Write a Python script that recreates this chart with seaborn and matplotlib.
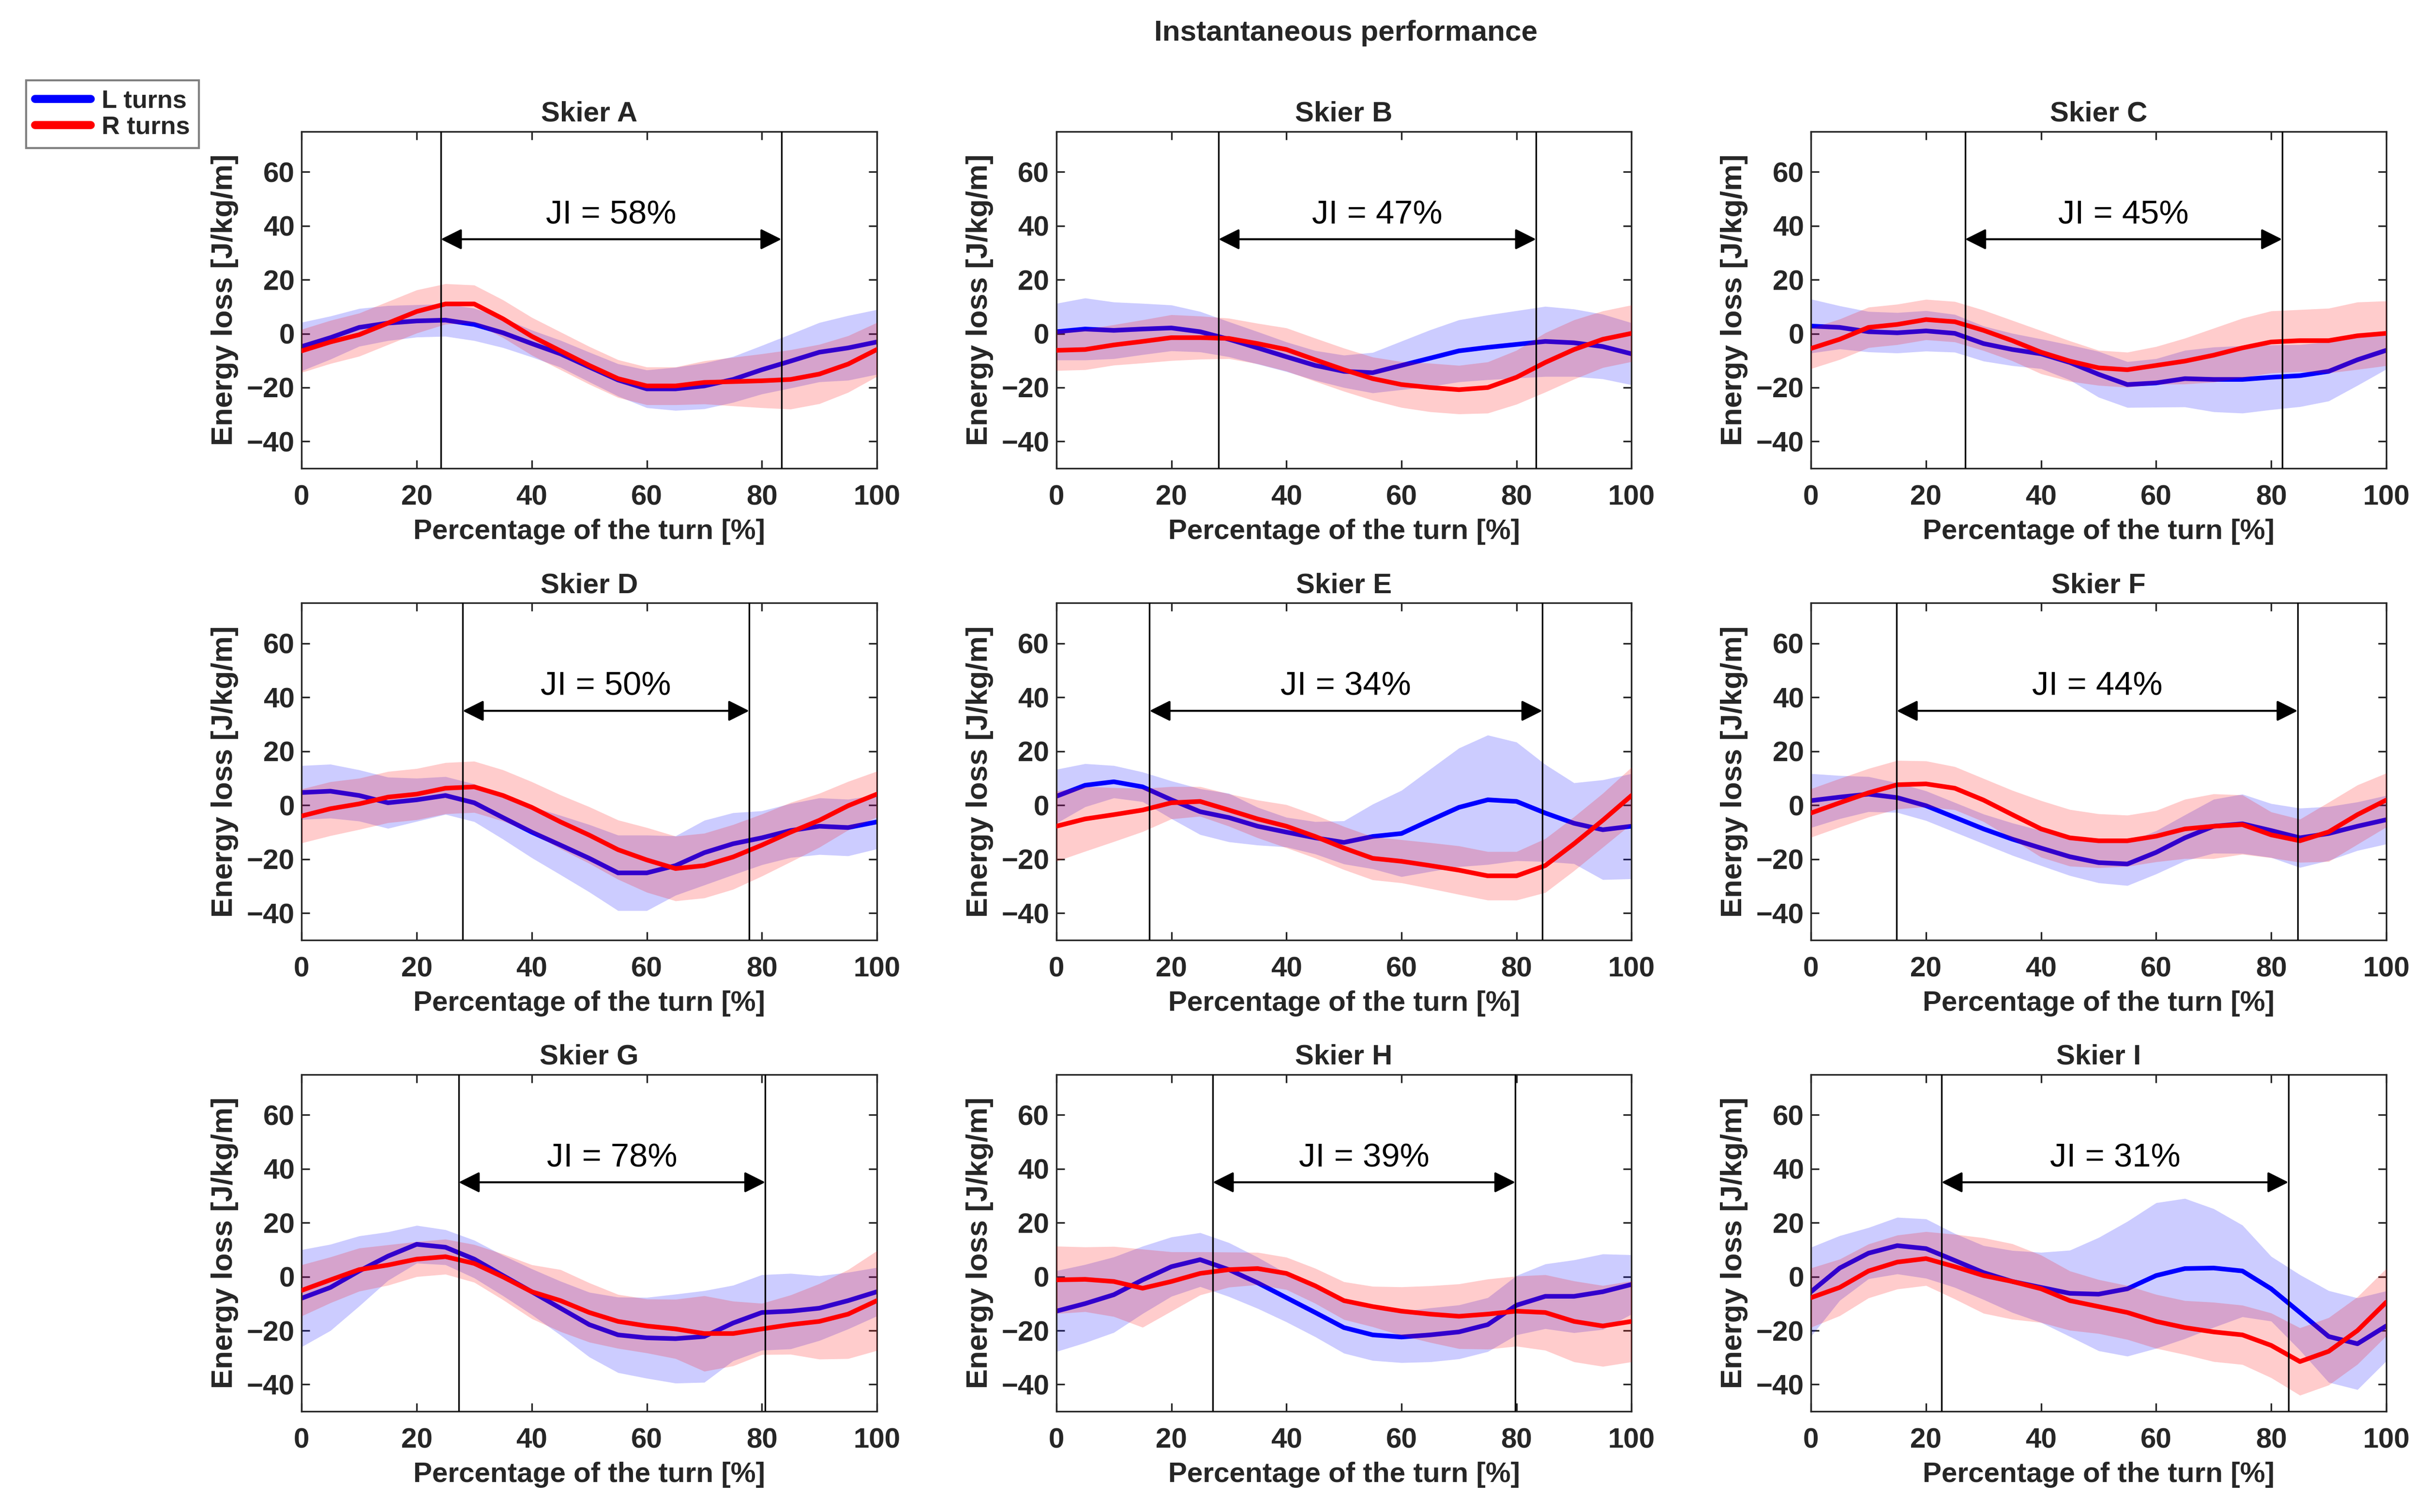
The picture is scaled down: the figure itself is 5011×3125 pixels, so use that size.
import numpy as np
import pandas as pd
import matplotlib
matplotlib.use("Agg")
import matplotlib.pyplot as plt
import seaborn as sns
from matplotlib.lines import Line2D

# percentage of the turn (sampling grid)
PCT = [0, 5, 10, 15, 20, 25, 30, 35, 40, 45, 50, 55, 60, 65, 70, 75, 80, 85, 90, 95, 100]

skiers = ["A", "B", "C", "D", "E", "F", "G", "H", "I"]
ji_values = [58, 47, 45, 50, 34, 44, 78, 39, 31]
ji_start = [24.2, 28.2, 26.8, 28.0, 16.2, 14.9, 27.3, 27.2, 22.7]
ji_end = [83.4, 83.4, 81.9, 77.8, 84.5, 84.6, 80.6, 79.8, 83.0]

# mean energy loss and SD, left turns
L_mean = {
    "A": [-4.8, -1.5, 2.3, 3.9, 4.7, 5.0, 3.4, 0.3, -3.7, -7.5, -12.4, -17.2, -20.5, -20.5, -19.4, -17.0, -13.4, -10.2, -6.9, -5.3, -3.1],
    "B": [0.7, 1.7, 1.2, 1.7, 2.1, 0.7, -2.1, -5.3, -8.6, -11.8, -14.0, -14.5, -11.8, -9.1, -6.4, -5.1, -4.0, -2.9, -3.4, -4.8, -7.5],
    "C": [2.8, 2.3, 0.7, 0.3, 1.0, 0.1, -3.7, -5.9, -7.5, -10.7, -15.1, -18.9, -18.3, -16.7, -17.0, -17.0, -16.2, -15.6, -14.0, -9.7, -6.2],
    "D": [4.7, 5.2, 3.6, 0.9, 2.0, 3.6, 0.9, -4.6, -10.0, -14.8, -19.7, -25.1, -25.1, -22.4, -17.6, -14.3, -12.1, -9.4, -7.8, -8.3, -6.2],
    "E": [3.3, 7.4, 8.7, 6.8, 2.0, -2.4, -4.6, -7.8, -10.0, -12.1, -13.8, -11.6, -10.5, -5.6, -0.8, 2.0, 1.4, -2.9, -6.7, -9.1, -7.8],
    "F": [1.7, 3.0, 4.1, 2.8, -0.2, -4.5, -8.8, -12.6, -15.9, -19.1, -21.3, -21.8, -17.5, -12.1, -7.8, -6.9, -9.4, -12.1, -10.5, -7.8, -5.4],
    "G": [-8.0, -4.0, 2.1, 7.6, 12.0, 10.9, 6.5, 0.4, -5.6, -11.7, -17.8, -21.6, -22.7, -23.0, -22.2, -17.2, -13.3, -12.8, -11.7, -8.9, -5.6],
    "H": [-12.8, -10.0, -6.7, -1.2, 3.7, 6.3, 2.6, -2.3, -7.8, -13.3, -18.9, -21.6, -22.4, -21.6, -20.5, -17.8, -10.6, -7.3, -7.3, -5.6, -2.9],
    "I": [-5.6, 3.2, 8.7, 11.5, 10.4, 6.0, 1.5, -1.8, -4.0, -6.2, -6.5, -4.5, 0.4, 3.0, 3.2, 2.1, -4.5, -13.3, -22.2, -24.9, -18.3],
}
L_sd = {
    "A": [9, 8, 7, 6.5, 6, 6, 6, 5.5, 5, 5, 5.5, 6, 7, 8, 8.5, 8.5, 9, 10, 11, 12, 12],
    "B": [10.5, 11.5, 10.5, 9.5, 8.5, 7.5, 6.5, 6, 5.5, 5.5, 6, 7.5, 9, 10.5, 11.5, 12, 12.5, 13, 12.5, 12, 11.5],
    "C": [10, 8, 7.5, 7.5, 7.5, 7, 6.5, 6, 5.5, 6.5, 8.5, 8.5, 9, 10.5, 12, 12.5, 12, 11.5, 11, 9.5, 7],
    "D": [10, 10, 9.5, 9.5, 8, 7, 7, 8, 9.5, 11, 12.5, 14, 14, 11, 12, 11.5, 10, 10, 10.5, 10.5, 10],
    "E": [10, 8, 6, 5.5, 7, 8.5, 9, 7, 5.5, 6, 8, 12, 16, 19, 22, 24, 22, 18, 15, 18.5, 19.5],
    "F": [10, 8, 6.5, 5.5, 5.5, 5.5, 5.5, 6, 6.5, 7, 7.5, 8, 8, 8.5, 10, 11, 10, 11, 10, 9, 9],
    "G": [18, 16, 13, 9, 7, 6.5, 7, 7.5, 8.5, 10, 12, 14, 15, 16.5, 17, 14, 14, 14, 12, 10.5, 9],
    "H": [15, 14.5, 14, 12.5, 11, 10, 10, 9.5, 9, 9, 9.5, 9.5, 9.5, 10, 10, 10, 11, 12, 13.5, 14, 11],
    "I": [16.5, 12, 9.5, 10.5, 11, 10, 10, 11.5, 13, 16, 21, 25, 27, 26, 22, 17, 12, 14, 17, 17, 13],
}

# mean energy loss and SD, right turns
R_mean = {
    "A": [-6.4, -3.1, -0.4, 3.9, 8.2, 11.0, 11.0, 5.5, -1.0, -6.4, -11.8, -16.7, -19.4, -19.4, -18.1, -17.8, -17.5, -17.0, -15.0, -11.3, -5.9],
    "B": [-6.2, -5.9, -4.2, -2.9, -1.5, -1.5, -1.8, -3.7, -5.9, -9.7, -13.4, -16.7, -18.9, -20.0, -20.8, -20.0, -16.2, -10.7, -5.9, -2.1, 0.1],
    "C": [-5.5, -2.1, 2.3, 3.4, 5.2, 4.4, 1.2, -2.6, -6.9, -10.2, -12.7, -13.4, -11.8, -10.2, -8.0, -5.3, -3.1, -2.6, -2.6, -0.8, 0.1],
    "D": [-4.0, -1.3, 0.5, 3.0, 4.1, 6.3, 6.8, 3.6, -0.8, -6.2, -11.1, -16.5, -20.3, -23.5, -22.4, -19.2, -14.8, -10.0, -5.6, -0.2, 4.1],
    "E": [-7.8, -5.1, -3.5, -1.8, 0.9, 1.4, -1.8, -5.1, -7.8, -11.6, -15.9, -19.7, -20.8, -22.4, -24.1, -26.2, -26.2, -22.4, -14.3, -5.6, 3.6],
    "F": [-2.9, 0.9, 4.6, 7.6, 7.9, 6.3, 1.9, -3.5, -8.8, -12.1, -13.2, -13.2, -11.5, -8.8, -7.8, -7.2, -11.0, -13.2, -9.9, -3.5, 1.9],
    "G": [-5.1, -1.2, 2.6, 4.3, 6.5, 7.4, 4.9, -0.1, -5.6, -8.9, -13.3, -16.6, -18.3, -19.4, -21.1, -21.1, -19.4, -17.8, -16.6, -13.9, -8.9],
    "H": [-1.2, -1.0, -1.8, -4.3, -1.8, 1.2, 2.6, 3.0, 1.2, -3.4, -8.9, -11.1, -12.8, -13.9, -14.7, -13.9, -12.8, -13.3, -16.6, -18.3, -16.6],
    "I": [-7.8, -4.0, 2.1, 5.4, 6.7, 3.7, 0.4, -1.8, -4.5, -8.9, -11.1, -13.3, -16.6, -18.9, -20.5, -21.6, -25.5, -31.5, -27.7, -20.0, -9.5],
}
R_sd = {
    "A": [8, 8, 8, 8, 8, 7.5, 7, 7, 7, 7, 7, 7, 7, 7, 8, 9, 10, 11, 11, 10.5, 10],
    "B": [7.5, 7.5, 7.5, 8, 8.5, 8, 7.5, 7.5, 8, 8, 8, 8, 8.5, 9, 9, 9.5, 10, 11, 11, 10.5, 10.5],
    "C": [7.5, 7.5, 7.5, 7.5, 7.5, 7.5, 7.5, 7.5, 8, 7.5, 6.5, 6.5, 7, 8.5, 10, 11, 11.5, 11.5, 12, 12.5, 12],
    "D": [10, 10, 9.5, 9.5, 9.5, 9.5, 9.5, 9.5, 9.5, 10, 10.5, 11, 12, 12, 12, 12, 11.5, 11, 10, 9, 8.5],
    "E": [13, 12, 10, 8, 6, 5.5, 6, 7, 8, 8, 8, 8, 8, 8.5, 9, 9, 9, 10, 10, 10, 10.5],
    "F": [9, 9, 9, 9, 8.5, 8, 8, 9, 10.5, 10.5, 10, 9.5, 9.5, 11, 12, 11, 8.5, 8, 11, 11, 10],
    "G": [9.5, 8.5, 8, 7.5, 6.5, 6.5, 7, 8.5, 10, 11.5, 11, 10, 10, 11, 14, 12, 9.5, 11, 14, 16.5, 18.5],
    "H": [12.5, 12, 13, 14.5, 11, 8, 6.5, 6, 6, 6.5, 7, 7.5, 9, 10.5, 12, 13, 13, 14, 15, 15, 15],
    "I": [11, 10.5, 10, 10, 10, 12, 14, 14, 12.5, 11, 10, 10, 10, 10, 11, 11, 12, 12.5, 12.5, 12.5, 12.5],
}

sns.set_style("ticks")
plt.rcParams["font.family"] = ["Liberation Sans", "DejaVu Sans"]
AX_COL = "#262626"

fig = plt.figure(figsize=(5011 / 300, 3125 / 300), dpi=300)

lefts = [0.1244, 0.4356, 0.7468]
bottoms = [0.6902, 0.3783, 0.0665]
W, H = 0.2372, 0.2229

for i, sk in enumerate(skiers):
    r, c = divmod(i, 3)
    ax = fig.add_axes([lefts[c], bottoms[r], W, H])

    df = pd.DataFrame({
        "pct": PCT * 2,
        "mean": L_mean[sk] + R_mean[sk],
        "sd": L_sd[sk] + R_sd[sk],
        "side": ["L turns"] * len(PCT) + ["R turns"] * len(PCT),
    })
    df["lo"] = df["mean"] - df["sd"]
    df["hi"] = df["mean"] + df["sd"]

    z = 1
    for side, col in [("L turns", "#0000ff"), ("R turns", "#ff0000")]:
        d = df[df["side"] == side]
        ax.fill_between(d["pct"], d["lo"], d["hi"], color=col, alpha=0.2, lw=0, zorder=z)
        sns.lineplot(data=d, x="pct", y="mean", color=col, lw=2.3, ax=ax, zorder=z + 1, legend=False)
        z += 2

    x1, x2 = ji_start[i], ji_end[i]
    ax.axvline(x1, color="black", lw=0.8, zorder=6)
    ax.axvline(x2, color="black", lw=0.8, zorder=6)
    ax.annotate("", xy=(x1, 35), xytext=(x2, 35),
                arrowprops=dict(arrowstyle="<|-|>", color="black", lw=1.0,
                                shrinkA=0, shrinkB=0, mutation_scale=22),
                zorder=7)
    ax.text((x1 + x2) / 2, 44, f"JI = {ji_values[i]}%", ha="center", va="center",
            fontsize=16.5, color="black")

    ax.set_xlim(0, 100)
    ax.set_ylim(-50, 75)
    ax.set_xticks([0, 20, 40, 60, 80, 100])
    ax.set_yticks([-40, -20, 0, 20, 40, 60])
    ax.tick_params(direction="in", top=True, right=True, length=4, width=0.8,
                   labelsize=14, colors=AX_COL, labelcolor=AX_COL)
    ax.tick_params(axis="x", pad=8)
    for lab in ax.get_xticklabels() + ax.get_yticklabels():
        lab.set_fontweight("bold")
    for sp in ax.spines.values():
        sp.set_color(AX_COL)
        sp.set_linewidth(0.8)
    ax.set_xlabel("Percentage of the turn [%]", fontsize=14, fontweight="bold", color=AX_COL)
    ax.set_ylabel("Energy loss [J/kg/m]", fontsize=14.8, fontweight="bold", color=AX_COL)
    ax.set_title(f"Skier {sk}", fontsize=14, fontweight="bold", pad=5)

fig.suptitle("Instantaneous performance", x=0.555, y=0.987, fontsize=14.5, fontweight="bold")

handles = [Line2D([0], [0], color="#0000ff", lw=4), Line2D([0], [0], color="#ff0000", lw=4)]
leg = fig.legend(handles, ["L turns", "R turns"], loc="upper left",
                 bbox_to_anchor=(0.0108, 0.9468), borderaxespad=0, frameon=True,
                 fancybox=False, framealpha=1, edgecolor="#808080", handlelength=2.2,
                 prop={"weight": "bold", "size": 12.5}, borderpad=0.35,
                 labelspacing=0.1, handletextpad=0.45)
leg.get_frame().set_linewidth(1.0)

fig.savefig("out.png", dpi=300, facecolor="white")
